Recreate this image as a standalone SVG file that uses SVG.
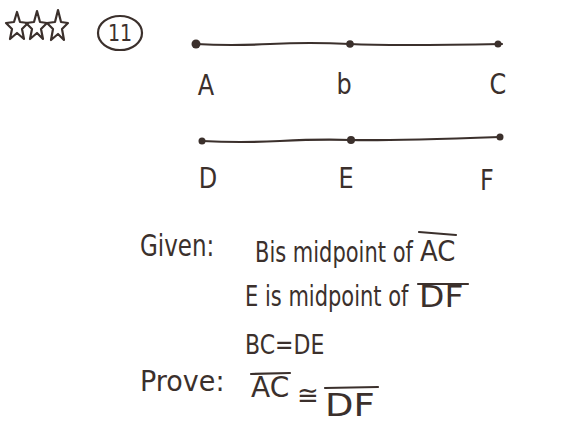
<svg xmlns="http://www.w3.org/2000/svg" width="565" height="427" viewBox="0 0 565 427">
<style>
.ink{stroke:#3b302c;fill:none;stroke-width:2.2;stroke-linecap:round;stroke-linejoin:round}
.dot{fill:#3b302c}
.t{font-family:"DejaVu Sans",sans-serif;fill:#3b302c}
.lbl{font-size:24px}
</style>
<rect width="565" height="427" fill="#ffffff"/>
<g id="stars">
<polygon class="ink" points="17,12 20,22 28,23 22,29 24,39 17,33 10,39 12,29 6,23 14,22"/>
<polygon class="ink" points="37,11 40,22 47,23 41,29 43,39 37,33 30,39 32,29 26,23 34,22"/>
<polygon class="ink" points="58,10 61,22 68,23 62,29 64,40 58,34 51,40 53,29 47,23 55,22"/>
</g>
<g id="problem-number">
<ellipse class="ink" cx="120" cy="33" rx="22" ry="17"/>
<text class="t" font-size="19" transform="translate(120,41) scale(1,1.2)" text-anchor="middle">11</text>
</g>
<g id="connectors">
<path class="ink" d="M196,44 Q230,46 270,44 T350,44 T502,44"/>
<path class="ink" d="M202,141 Q240,143 280,141 T351,140 T500,137"/>
</g>
<g id="A"><circle class="dot" cx="196" cy="44" r="4.5"/><text class="t lbl" transform="translate(206,95) scale(1,1.15)" text-anchor="middle">A</text></g>
<g id="B"><circle class="dot" cx="350" cy="44" r="3.8"/><text class="t lbl" transform="translate(344,94) scale(1,1.15)" text-anchor="middle">b</text></g>
<g id="C"><circle class="dot" cx="498" cy="44" r="3.5"/><text class="t lbl" transform="translate(498,94) scale(1,1.15)" text-anchor="middle">C</text></g>
<g id="D"><circle class="dot" cx="202" cy="141" r="3.5"/><text class="t lbl" transform="translate(208,188) scale(1,1.15)" text-anchor="middle">D</text></g>
<g id="E"><circle class="dot" cx="351" cy="140" r="4"/><text class="t lbl" transform="translate(346,188) scale(1,1.15)" text-anchor="middle">E</text></g>
<g id="F"><circle class="dot" cx="500" cy="137" r="3.5"/><text class="t lbl" transform="translate(487,190) scale(1,1.15)" text-anchor="middle">F</text></g>
<g id="given">
<text class="t" font-size="23" transform="translate(140,256) scale(1,1.3)">Given:</text>
<text class="t" font-size="21" transform="translate(255,262) scale(1,1.35)">Bis midpoint of</text>
<text class="t" font-size="26" transform="translate(420,261) scale(1,1.1)">AC</text>
<line class="ink" x1="419" y1="232" x2="456" y2="235"/>
<text class="t" font-size="21" transform="translate(245,306) scale(1,1.35)">E is midpoint of</text>
<text class="t" font-size="33" transform="translate(419,307) scale(1,0.9)">DF</text>
<line class="ink" x1="418" y1="284" x2="468" y2="284"/>
<text class="t" font-size="22" transform="translate(245,354) scale(1,1.2)">BC=DE</text>
</g>
<g id="prove">
<text class="t" font-size="27" transform="translate(140,391) scale(1,1.05)">Prove:</text>
<text class="t" font-size="28" transform="translate(251,397) scale(1,1.0)">AC</text>
<line class="ink" x1="251" y1="374" x2="290" y2="373"/>
<text class="t" font-size="26" transform="translate(297,404)">≅</text>
<text class="t" font-size="37" transform="translate(325,416) scale(1,0.85)">DF</text>
<line class="ink" x1="325" y1="388" x2="378" y2="387"/>
</g>
</svg>
